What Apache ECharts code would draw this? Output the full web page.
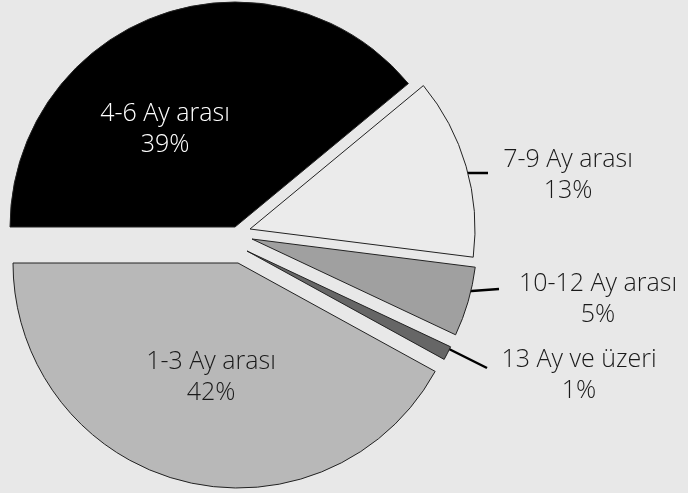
<!DOCTYPE html>
<html><head><meta charset="utf-8">
<script src="https://cdn.jsdelivr.net/npm/echarts@6/dist/echarts.min.js"></script>
<style>html,body{margin:0;padding:0;background:#e8e8e8}#c{width:688px;height:493px}</style>
</head><body><div id="c"></div>
<script>
// ---- data ----
const categories = ['4-6 Ay arası', '7-9 Ay arası', '10-12 Ay arası', '13 Ay ve üzeri', '1-3 Ay arası'];
const values = [39, 13, 5, 1, 42];

// ---- styling / layout ----
const colors = ['#000000', '#ebebeb', '#a0a0a0', '#666666', '#b8b8b8'];
const textColors = ['#ffffff', '#1a1a1a', '#1a1a1a', '#1a1a1a', '#1a1a1a'];
const inside = [true, false, false, false, true];
const baseCenter = [242, 247];
const explode = [[-7, -20], [8, -18], [10, -8], [5, 4], [-4, 16]];
const labelPos = [[165, 129], [568, 175], [598, 299], [579, 375], [211, 377]];
const leader = [null, [[458, 173], [488, 173]], [[458, 292], [499, 289]], [[447, 348], [487, 368]], null];
const R = 225;

const total = values.reduce((a, b) => a + b, 0);
let cum = 0;
const series = categories.map((name, i) => {
  const start = 180 - 360 * cum / total;
  cum += values[i];
  return {
    type: 'pie',
    radius: R,
    center: [baseCenter[0] + explode[i][0], baseCenter[1] + explode[i][1]],
    startAngle: start,
    clockwise: true,
    avoidLabelOverlap: false,
    silent: true,
    animation: false,
    label: {
      show: true,
      position: inside[i] ? 'inside' : 'outside',
      formatter: '{b}\n{c}%',
      fontFamily: 'Open Sans',
      fontWeight: 300,
      fontSize: 25,
      lineHeight: 31,
      color: textColors[i],
      align: 'center'
    },
    labelLine: {
      show: !inside[i],
      length: 10,
      length2: 10,
      lineStyle: { color: '#000', width: 2.5 }
    },
    labelLayout: Object.assign(
      { x: labelPos[i][0], y: labelPos[i][1], align: 'center', verticalAlign: 'middle' },
      leader[i] ? { labelLinePoints: leader[i] } : {}
    ),
    data: [
      { name: name, value: values[i], itemStyle: { color: colors[i], borderColor: '#222', borderWidth: 1 } },
      { name: '', value: total - values[i], itemStyle: { color: 'rgba(0,0,0,0)', borderWidth: 0 },
        label: { show: false }, labelLine: { show: false } }
    ]
  };
});

const chart = echarts.init(document.getElementById('c'), null, { renderer: 'canvas' });
chart.setOption({
  backgroundColor: '#e8e8e8',
  animation: false,
  series: series
});
</script>
</body></html>
